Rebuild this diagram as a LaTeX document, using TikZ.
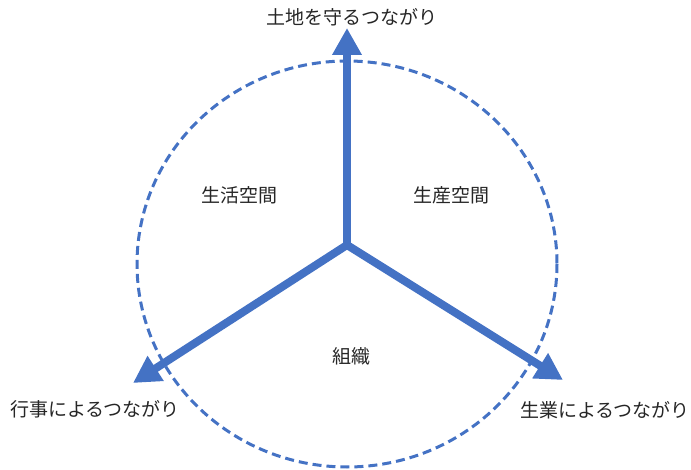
\documentclass[tikz,border=0pt]{standalone}
\usepackage{fontspec}
\setmainfont{Noto Sans CJK JP}
\usetikzlibrary{arrows.meta}
\definecolor{obl}{HTML}{4472C4}
\begin{document}
\begin{tikzpicture}[x=1pt,y=-1pt,
  axis/.style={draw=obl,line width=8pt,-{Triangle[length=27pt,width=28pt]}},
  lbl/.style={font=\fontsize{19}{22}\selectfont,inner sep=0pt,text=black!85}]
\useasboundingbox (0,0) rectangle (691,470);
\draw[obl,line width=3pt,dash pattern=on 9pt off 5pt] (347,264) ellipse [x radius=210, y radius=203];
\coordinate (c) at (347,245);
\coordinate (t) at (347,28);
\coordinate (l) at (133,383);
\coordinate (r) at (563,380);
\draw[axis] (c) -- (t);
\draw[axis] (c) -- (l);
\draw[axis] (c) -- (r);
\fill[obl] (c) circle (4pt);
\node[lbl] (nt) at (352,17) {土地を守るつながり};
\node[lbl] (nl) at (95,409) {行事によるつながり};
\node[lbl] (nr) at (605,410) {生業によるつながり};
\node[lbl] (a) at (239,195) {生活空間};
\node[lbl] (b) at (451,195) {生産空間};
\node[lbl] (o) at (351,356) {組織};
\end{tikzpicture}
\end{document}
